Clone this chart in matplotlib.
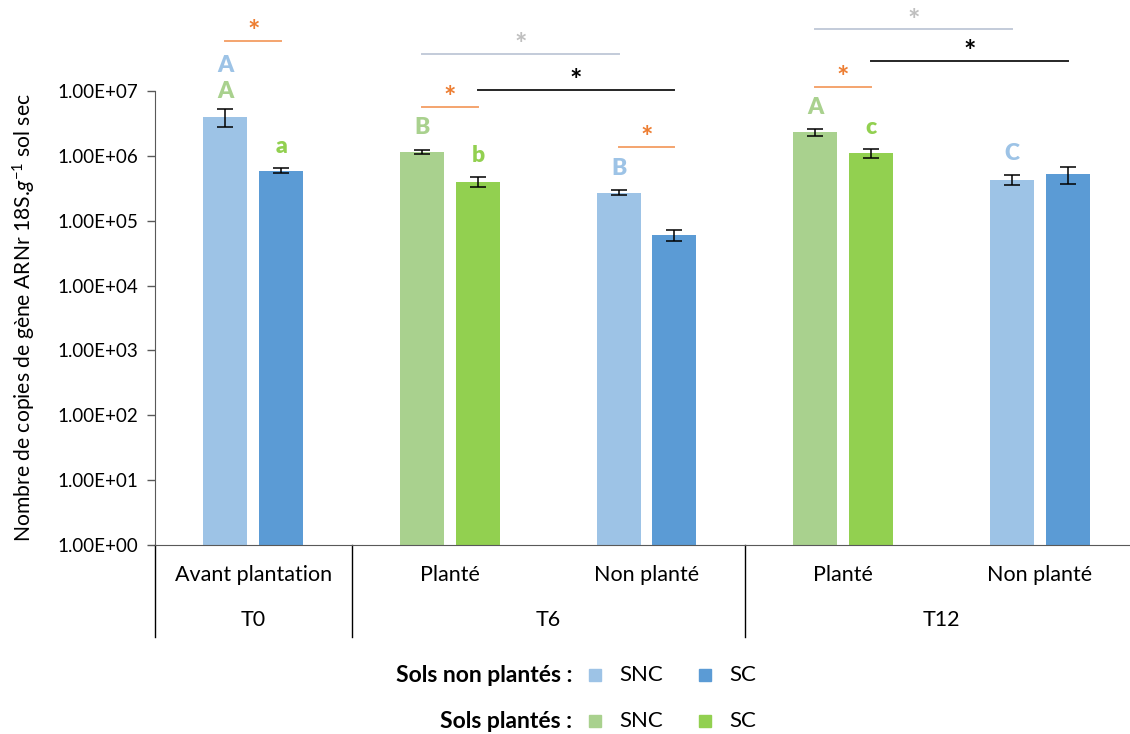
import matplotlib
matplotlib.use("Agg")
import matplotlib.pyplot as plt
from matplotlib.patches import Rectangle
import matplotlib.transforms as mtransforms
import numpy as np

plt.rcParams['font.family'] = ['Lato', 'DejaVu Sans']
plt.rcParams['mathtext.fontset'] = 'custom'
plt.rcParams['mathtext.rm'] = 'Lato'
plt.rcParams['mathtext.it'] = 'Lato:italic'

# ---- data ----------------------------------------------------------------
sub_labels = ['Avant plantation', 'Planté', 'Non planté', 'Planté', 'Non planté']
time_labels = ['T0', 'T6', 'T12']
time_span = [(0, 0), (1, 2), (3, 4)]          # categories in each time group
planted = [False, True, False, True, False]

snc_vals = [4.0e6, 1.15e6, 2.7e5, 2.3e6, 4.3e5]
snc_err = [1.2e6, 1.0e5, 2.5e4, 3.0e5, 8.0e4]
sc_vals = [5.9e5, 4.0e5, 6.0e4, 1.1e6, 5.2e5]
sc_err = [5.0e4, 7.0e4, 1.2e4, 1.8e5, 1.5e5]

# letters above bars: (category, 0=SNC/1=SC, text, kind)
letters = [(0, 0, 'A', 'green'), (0, 0, 'A', 'blue'), (0, 1, 'a', 'greendark'),
           (1, 0, 'B', 'green'), (1, 1, 'b', 'greendark'),
           (2, 0, 'B', 'blue'),
           (3, 0, 'A', 'green'), (3, 1, 'c', 'greendark'),
           (4, 0, 'C', 'blue')]

# significance bars: (cat1, bar1, cat2, bar2, height, colour kind)
sig_bars = [(0, 0, 0, 1, 5.9e7, 'orange'),
            (1, 0, 2, 0, 3.7e7, 'gray'),
            (1, 1, 2, 1, 1.04e7, 'black'),
            (1, 0, 1, 1, 5.6e6, 'orange'),
            (2, 0, 2, 1, 1.38e6, 'orange'),
            (3, 0, 4, 0, 8.9e7, 'gray'),
            (3, 1, 4, 1, 2.9e7, 'black'),
            (3, 0, 3, 1, 1.15e7, 'orange')]

# ---- colours -------------------------------------------------------------
c_blue_l, c_blue_d = '#9DC3E6', '#5B9BD5'
c_green_l, c_green_d = '#A9D18E', '#92D050'
letter_col = {'blue': c_blue_l, 'green': c_green_l, 'greendark': c_green_d}
line_col = {'orange': '#F4A46E', 'gray': '#C3CBD9', 'black': '#262626'}
star_col = {'orange': '#ED7D31', 'gray': '#BFBFBF', 'black': '#000000'}

fig = plt.figure(figsize=(11.3, 7.34), dpi=100)
ax = fig.add_axes([155 / 1130, 1 - 545 / 734, 983 / 1130, 454 / 734])

x = np.arange(len(sub_labels))
off, w = 0.142, 0.224
col1 = [c_green_l if p else c_blue_l for p in planted]
col2 = [c_green_d if p else c_blue_d for p in planted]

ax.bar(x - off, snc_vals, w, color=col1, zorder=2)
ax.bar(x + off, sc_vals, w, color=col2, zorder=2)
ekw = dict(fmt='none', ecolor='black', elinewidth=1.1, capsize=6, capthick=1.1, zorder=3)
ax.errorbar(x - off, snc_vals, yerr=snc_err, **ekw)
ax.errorbar(x + off, sc_vals, yerr=sc_err, **ekw)

ax.set_yscale('log')
ax.set_ylim(1, 1e7)
ax.set_xlim(-0.5, len(sub_labels) - 0.5)
ax.set_yticks([10.0 ** k for k in range(8)])
ax.yaxis.set_major_formatter(plt.FuncFormatter(lambda v, p: f"{v:.2E}"))
ax.yaxis.set_minor_locator(matplotlib.ticker.NullLocator())
ax.tick_params(axis='y', direction='out', length=6, width=1, color='#595959',
               labelsize=13.5, labelcolor='black', pad=6)
ax.set_xticks([])
for s in ['top', 'right']:
    ax.spines[s].set_visible(False)
ax.spines['left'].set_color('#595959')
ax.spines['bottom'].set_color('#595959')

ax.set_ylabel(r'Nombre de copies de gène ARNr 18S.$\mathit{g}^{-1}$ sol sec',
              fontsize=15.2, labelpad=14)

# letters
bar_pos = lambda c, b: x[c] + (off if b else -off)
tops = {}
for c in x:
    tops[(c, 0)] = snc_vals[c] + snc_err[c]
    tops[(c, 1)] = sc_vals[c] + sc_err[c]
stack = {}
for c, b, t, k in letters:
    n = stack.get((c, b), 0)
    stack[(c, b)] = n + 1
    base = 5 if (c, b) == (0, 0) else 8
    ax.annotate(t, (bar_pos(c, b), tops[(c, b)]), xytext=(0, base + 19 * n),
                textcoords='offset points', ha='center', va='bottom',
                fontsize=16.5, fontweight='heavy', color=letter_col[k],
                annotation_clip=False)

# significance bars
for c1, b1, c2, b2, h, k in sig_bars:
    x1, x2 = bar_pos(c1, b1), bar_pos(c2, b2)
    ax.plot([x1, x2], [h, h], color=line_col[k], lw=1.4, clip_on=False, zorder=4)
    ax.annotate('*', ((x1 + x2) / 2, h), xytext=(0, -3), textcoords='offset points',
                ha='center', va='bottom', fontsize=21, fontweight='bold',
                color=star_col[k], annotation_clip=False)

# two-level category axis
trans = mtransforms.blended_transform_factory(ax.transData, ax.transAxes)
for c in x:
    ax.text(c, -0.066, sub_labels[c], transform=trans, ha='center', va='center',
            fontsize=15.5)
for (a, b), lab in zip(time_span, time_labels):
    ax.text((a + b) / 2, -0.165, lab, transform=trans, ha='center', va='center',
            fontsize=15.5)
    ax.plot([a - 0.5, a - 0.5], [0, -0.203], transform=trans, color='black',
            lw=1, clip_on=False)

# legend
rows = [('Sols non plantés :', c_blue_l, c_blue_d, 675),
        ('Sols plantés :', c_green_l, c_green_d, 721)]
for title, ca, cb, ypix in rows:
    yf = 1 - ypix / 734
    fig.text(572 / 1130, yf, title, ha='right', va='center', fontsize=16.5,
             fontweight='bold')
    for xs, cc, lab in [(595, ca, 'SNC'), (705, cb, 'SC')]:
        fig.patches.append(Rectangle(((xs - 6) / 1130, yf - 6 / 734), 12 / 1130,
                                     12 / 734, color=cc, transform=fig.transFigure))
        fig.text((xs + 24) / 1130, yf, lab, ha='left', va='center', fontsize=16)

fig.savefig('out.png', dpi=100)
